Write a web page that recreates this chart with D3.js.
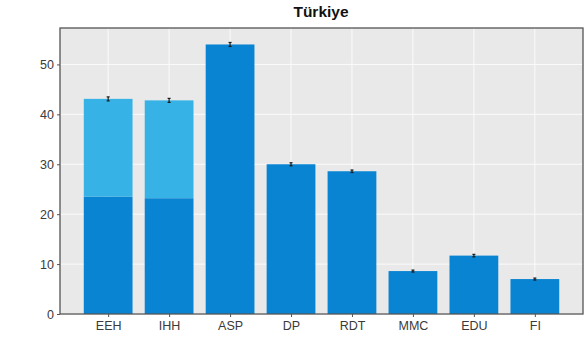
<!DOCTYPE html>
<html>
<head>
<meta charset="utf-8">
<script src="https://cdn.jsdelivr.net/npm/d3@7"></script>
<style>
  html, body { margin: 0; padding: 0; background: #fff; }
  svg { display: block; }
  .tick text { font-family: "Liberation Sans", Arial, sans-serif; font-size: 12.5px; fill: #3a3a3a; }
</style>
</head>
<body>
<svg id="chart" width="585" height="342"></svg>
<script>
// Indicator categories and values
const categories = ["EEH", "IHH", "ASP", "DP", "RDT", "MMC", "EDU", "FI"];
const baseValues = [23.5, 23.2, 54.0, 30.0, 28.6, 8.6, 11.7, 7.0];
const topValues = [19.6, 19.6, 0, 0, 0, 0, 0, 0];
const errors = [0.4, 0.4, 0.4, 0.3, 0.25, 0.2, 0.25, 0.2];
const yTicks = [0, 10, 20, 30, 40, 50];
const title = "Türkiye";

const svg = d3.select("#chart");
const mLeft = 60, mRight = 583, mTop = 28, mBottom = 314;

const x = d3.scaleLinear().domain([-0.79, categories.length - 1 + 0.79]).range([mLeft, mRight]);
const y = d3.scaleLinear().domain([0, 57.3]).range([mBottom, mTop]);
const barW = x(0.8) - x(0);

// plot background
svg.append("rect").attr("x", mLeft).attr("y", mTop)
  .attr("width", mRight - mLeft).attr("height", mBottom - mTop)
  .attr("fill", "#e9e9e9");

// grid
svg.append("g").selectAll("line").data(yTicks).join("line")
  .attr("x1", mLeft).attr("x2", mRight)
  .attr("y1", d => y(d)).attr("y2", d => y(d))
  .attr("stroke", "#fbfbfb").attr("stroke-width", 1);
svg.append("g").selectAll("line").data(categories.map((c, i) => i)).join("line")
  .attr("x1", d => x(d)).attr("x2", d => x(d))
  .attr("y1", mTop).attr("y2", mBottom)
  .attr("stroke", "#fbfbfb").attr("stroke-width", 1);

const data = categories.map((c, i) => ({
  c, i, base: baseValues[i], extra: topValues[i],
  total: baseValues[i] + topValues[i], err: errors[i]
}));

// lower (dark) segment
svg.append("g").selectAll("rect").data(data).join("rect")
  .attr("x", d => x(d.i) - barW / 2).attr("width", barW)
  .attr("y", d => y(d.base)).attr("height", d => y(0) - y(d.base))
  .attr("fill", "#0884d2");

// upper (light) segment
svg.append("g").selectAll("rect").data(data.filter(d => d.extra > 0)).join("rect")
  .attr("x", d => x(d.i) - barW / 2).attr("width", barW)
  .attr("y", d => y(d.total)).attr("height", d => y(d.base) - y(d.total))
  .attr("fill", "#36b2e6");

// error bars
const eb = svg.append("g").attr("stroke", "#1a1a1a").attr("stroke-width", 1.2);
data.forEach(d => {
  const cx = x(d.i);
  eb.append("line").attr("x1", cx).attr("x2", cx)
    .attr("y1", y(d.total - d.err)).attr("y2", y(d.total + d.err));
  [d.total - d.err, d.total + d.err].forEach(v => {
    eb.append("line").attr("x1", cx - 1.5).attr("x2", cx + 1.5)
      .attr("y1", y(v)).attr("y2", y(v));
  });
});

// frame
svg.append("rect").attr("x", mLeft).attr("y", mTop)
  .attr("width", mRight - mLeft).attr("height", mBottom - mTop)
  .attr("fill", "none").attr("stroke", "#555").attr("stroke-width", 1.3);

// axes
const xAxis = d3.axisBottom(x).tickValues(categories.map((c, i) => i))
  .tickFormat(i => categories[i]).tickSize(3).tickPadding(4);
const gx = svg.append("g").attr("transform", `translate(0,${mBottom})`).call(xAxis);
gx.select(".domain").remove();
gx.selectAll(".tick line").attr("stroke", "#555");

const yAxis = d3.axisLeft(y).tickValues(yTicks).tickSize(3).tickPadding(3);
const gy = svg.append("g").attr("transform", `translate(${mLeft},0)`).call(yAxis);
gy.select(".domain").remove();
gy.selectAll(".tick line").attr("stroke", "#555");

// title
svg.append("text").attr("x", 321).attr("y", 17)
  .attr("text-anchor", "middle")
  .attr("font-family", "Liberation Sans, Arial, sans-serif")
  .attr("font-weight", "bold").attr("font-size", 15.5).attr("fill", "#111")
  .text(title);
</script>
</body>
</html>
